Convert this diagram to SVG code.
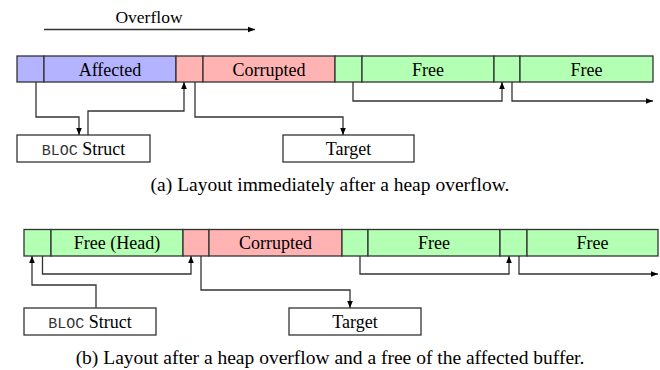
<svg xmlns="http://www.w3.org/2000/svg" width="660" height="370" viewBox="0 0 660 370">
<style>
.t{font-family:'Liberation Serif','DejaVu Serif',serif;font-size:18px;fill:#000;text-anchor:middle}
.m{font-family:'Liberation Mono','DejaVu Sans Mono',monospace;font-size:15px;fill:#333}
.cap{font-family:'Liberation Serif','DejaVu Serif',serif;font-size:19.5px;fill:#000;text-anchor:middle}
.b{fill:#b3b3ff;stroke:#333;stroke-width:1.3}
.r{fill:#ffb3b3;stroke:#333;stroke-width:1.3}
.g{fill:#b3ffb3;stroke:#333;stroke-width:1.3}
.w{fill:#fff;stroke:#333;stroke-width:1.3}
.c{fill:none;stroke:#333;stroke-width:1.3;marker-end:url(#ah)}
</style>
<defs>
<marker id="ah" viewBox="0 0 10 10" refX="10" refY="5" markerWidth="7" markerHeight="7" markerUnits="userSpaceOnUse" orient="auto">
<path d="M0,1 L10,5 L0,9 z" fill="#000"/>
</marker>
</defs>

<!-- Diagram (a) -->
<g id="overflow">
<text class="t" x="149" y="23" style="font-size:17.5px">Overflow</text>
<line x1="44" y1="29.5" x2="255" y2="29.5" class="c"/>
</g>
<g id="a-affected">
<rect class="b" x="17" y="56" width="27" height="26"/>
<rect class="b" x="44" y="56" width="132" height="26"/>
<text class="t" x="110" y="75.5">Affected</text>
</g>
<g id="a-corrupted">
<rect class="r" x="176" y="56" width="27" height="26"/>
<rect class="r" x="203" y="56" width="132" height="26"/>
<text class="t" x="269" y="75.5">Corrupted</text>
</g>
<g id="a-free1">
<rect class="g" x="335" y="56" width="27" height="26"/>
<rect class="g" x="362" y="56" width="132" height="26"/>
<text class="t" x="428" y="75.5">Free</text>
</g>
<g id="a-free2">
<rect class="g" x="494" y="56" width="26" height="26"/>
<rect class="g" x="520" y="56" width="133" height="26"/>
<text class="t" x="586.5" y="75.5">Free</text>
</g>
<g id="a-bloc">
<rect class="w" x="17" y="135" width="133" height="27"/>
<text class="t" x="83.5" y="154.5"><tspan class="m">BLOC</tspan> Struct</text>
</g>
<g id="a-target">
<rect class="w" x="283" y="135" width="131" height="27"/>
<text class="t" x="348.5" y="154.5">Target</text>
</g>
<g id="a-connectors">
<polyline class="c" points="36,82 36,117 79,117 79,135"/>
<polyline class="c" points="88,135 88,111 184,111 184,82"/>
<polyline class="c" points="195,82 195,117 343,117 343,135"/>
<polyline class="c" points="353,82 353,101 502,101 502,82"/>
<polyline class="c" points="512,82 512,101 653,101"/>
</g>
<text class="cap" x="330" y="191">(a) Layout immediately after a heap overflow.</text>

<!-- Diagram (b) -->
<g id="b-freehead">
<rect class="g" x="24" y="229.5" width="27" height="26.5"/>
<rect class="g" x="51" y="229.5" width="132" height="26.5"/>
<text class="t" x="117" y="248.5">Free (Head)</text>
</g>
<g id="b-corrupted">
<rect class="r" x="183" y="229.5" width="26" height="26.5"/>
<rect class="r" x="209" y="229.5" width="133" height="26.5"/>
<text class="t" x="275.5" y="248.5">Corrupted</text>
</g>
<g id="b-free1">
<rect class="g" x="342" y="229.5" width="26" height="26.5"/>
<rect class="g" x="368" y="229.5" width="132" height="26.5"/>
<text class="t" x="434" y="248.5">Free</text>
</g>
<g id="b-free2">
<rect class="g" x="500" y="229.5" width="27" height="26.5"/>
<rect class="g" x="527" y="229.5" width="131" height="26.5"/>
<text class="t" x="592.5" y="248.5">Free</text>
</g>
<g id="b-bloc">
<rect class="w" x="24" y="308" width="132" height="27"/>
<text class="t" x="90" y="327.5"><tspan class="m">BLOC</tspan> Struct</text>
</g>
<g id="b-target">
<rect class="w" x="289" y="308" width="132" height="27"/>
<text class="t" x="355" y="327.5">Target</text>
</g>
<g id="b-connectors">
<polyline class="c" points="96,308 96,285 32,285 32,256"/>
<polyline class="c" points="42.5,256 42.5,274 191,274 191,256"/>
<polyline class="c" points="201,256 201,290 350,290 350,308"/>
<polyline class="c" points="360,256 360,274 509,274 509,256"/>
<polyline class="c" points="519,256 519,274 658,274"/>
</g>
<text class="cap" x="330" y="364">(b) Layout after a heap overflow and a free of the affected buffer.</text>
</svg>
